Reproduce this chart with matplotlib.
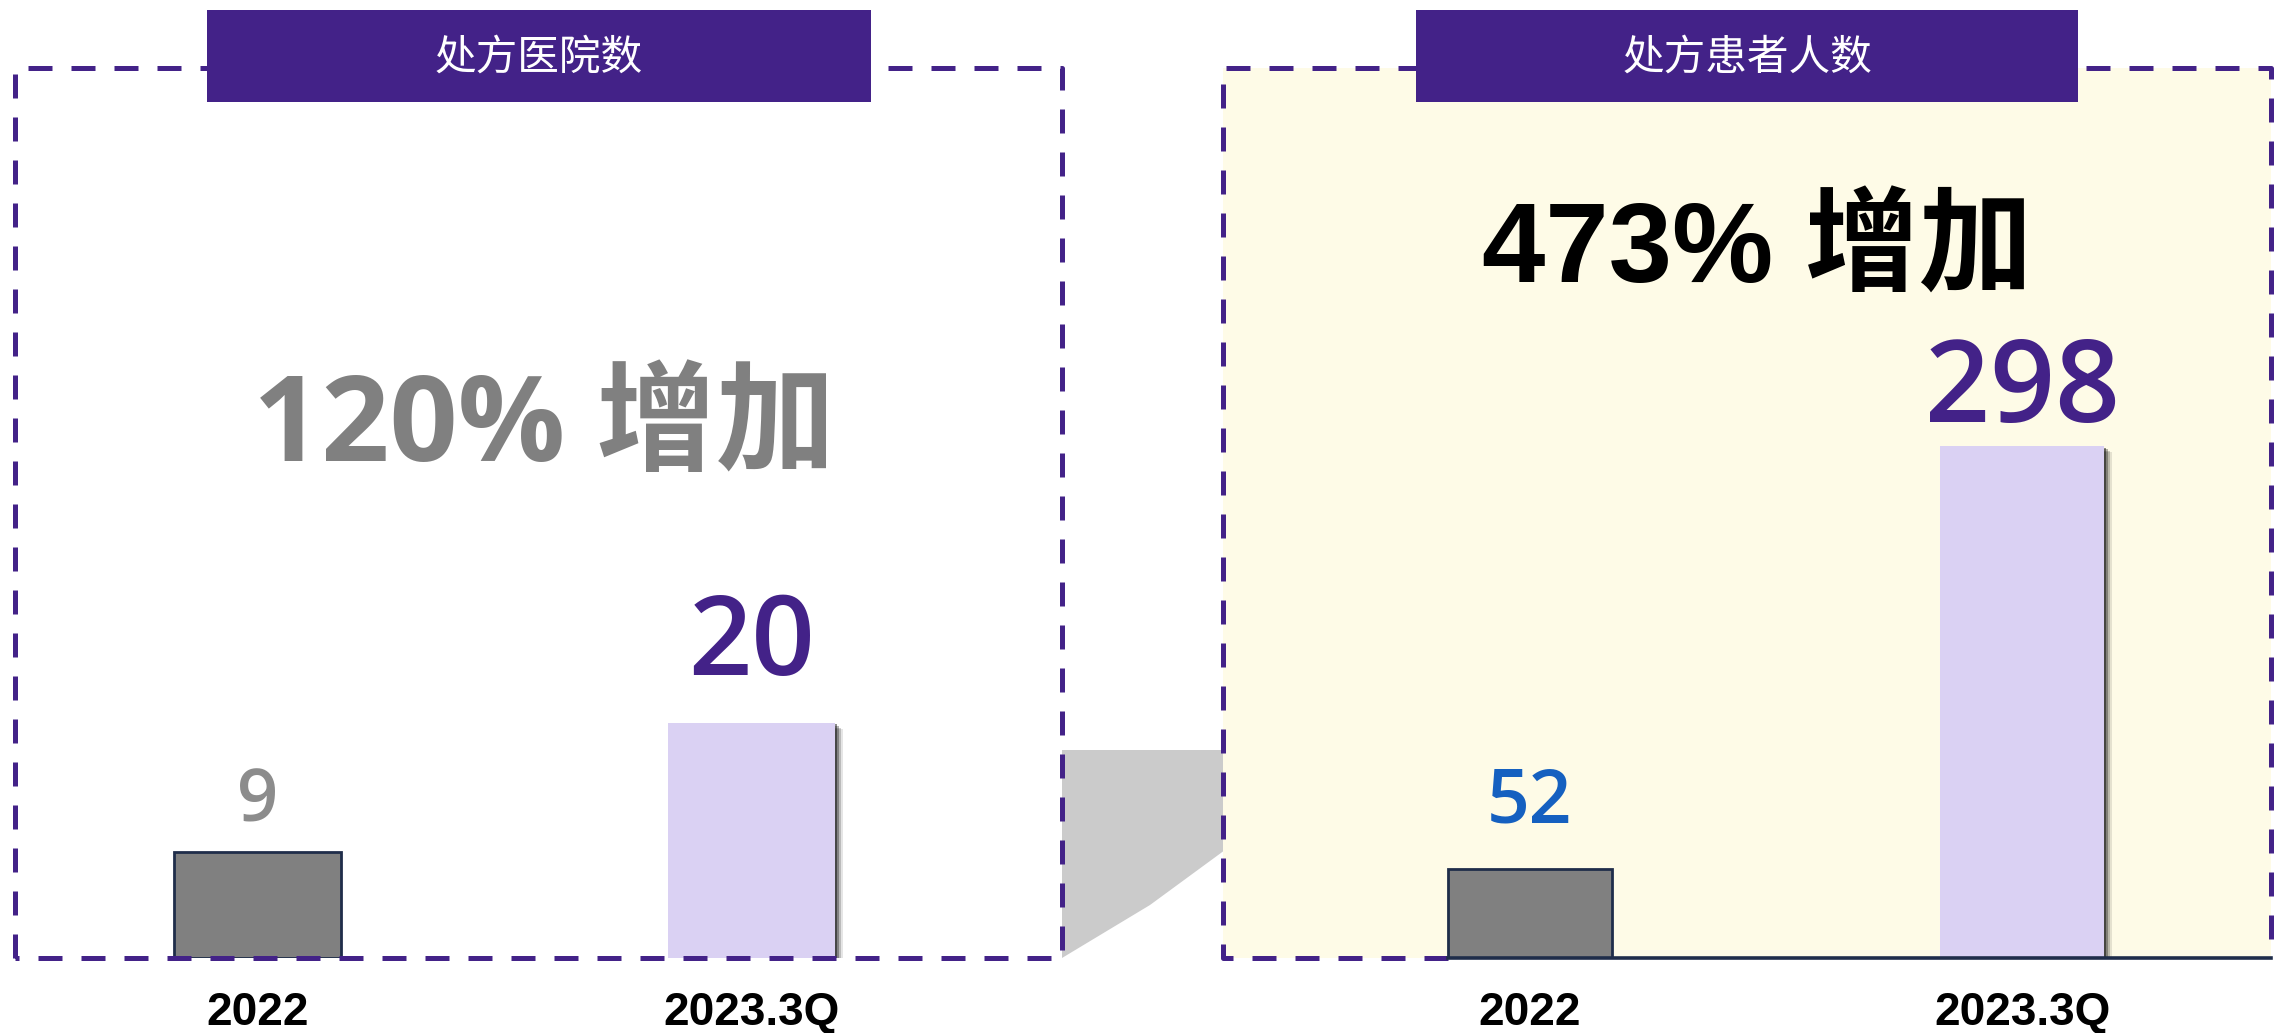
import matplotlib.pyplot as plt
from matplotlib.patches import Rectangle, Polygon
from matplotlib.transforms import offset_copy

plt.rcParams['font.family'] = ['Liberation Sans', 'Noto Sans CJK SC', 'DejaVu Sans']

# data
periods = ['2022', '2023.3Q']
hospitals = [9, 20]
patients = [52, 298]
panel_titles = ['处方医院数', '处方患者人数']
growth_labels = ['120% 增加', '473% 增加']

W, H = 2275, 1033
PURPLE = '#432288'
NAVY = '#1F2D4A'
GRAY_BAR = '#808080'
LAVENDER = '#DAD1F3'
CREAM = '#FEFBE7'
DASH = (0, (4.8, 3.8))


def fx(px):
    return px / W


def fy(py):
    return 1 - py / H


fig = plt.figure(figsize=(22.75, 10.33), dpi=100)

# panel axes (left: hospitals, right: patients)
ax1 = fig.add_axes([fx(14.5), fy(958), fx(1062 - 14.5), (958 - 68) / H])
ax2 = fig.add_axes([fx(1223), fy(958), fx(2271 - 1223), (958 - 68) / H])
ax1.set_facecolor('none')
ax2.set_facecolor(CREAM)

panels = [
    (ax1, hospitals, (-0.493, 1.63), 75.7, 0.338, ['#8C8C8C', PURPLE], [52, 80], [31, 48]),
    (ax2, patients, (-0.623, 1.505), 518, 0.333, ['#1560C0', PURPLE], [54, 82], [46, 24]),
]

for k, (ax, vals, xl, ymax, bw, lab_colors, lab_sizes, lab_off) in enumerate(panels):
    ax.set_xlim(*xl)
    ax.set_ylim(0, ymax)
    for s in ax.spines.values():
        s.set_visible(False)
    ax.set_yticks([])
    ax.set_xticks([0, 1])
    ax.set_xticklabels(periods, fontsize=33, fontweight='bold', color='black')
    ax.tick_params(axis='x', length=0, pad=24)

    x = [0, 1]
    # shadow of the second bar
    for d, a in [(8, 0.10), (6, 0.18), (4, 0.30), (2, 0.45)]:
        tr = offset_copy(ax.transData, fig=fig, x=d, y=-d * 0.8, units='dots')
        ax.bar(x[1], vals[1], width=bw, color='black', alpha=a, transform=tr,
               linewidth=0, zorder=2)
    ax.bar(x[0], vals[0], width=bw, color=GRAY_BAR, edgecolor=NAVY, linewidth=2, zorder=3)
    ax.bar(x[1], vals[1], width=bw, color=LAVENDER, linewidth=0, zorder=3)

    for i, v in enumerate(vals):
        ax.annotate(str(v), xy=(x[i], v), xytext=(0, lab_off[i]), textcoords='offset pixels',
                    ha='center', va='baseline', fontsize=lab_sizes[i],
                    color=lab_colors[i], family=['Open Sans', 'DejaVu Sans'],
                    fontweight='semibold', zorder=5)

    # dashed frame
    if k == 0:
        ax.plot([0, 0, 1, 1, 0], [0, 1, 1, 0, 0], transform=ax.transAxes, clip_on=False,
                color=PURPLE, lw=3.6, ls=DASH, zorder=4)
    else:
        left_edge = (x[0] - bw / 2 - xl[0]) / (xl[1] - xl[0])
        ax.plot([left_edge, 0, 0, 1, 1], [0, 0, 1, 1, 0], transform=ax.transAxes,
                clip_on=False, color=PURPLE, lw=3.6, ls=DASH, zorder=4)
        ax.plot([left_edge, 1], [0, 0], transform=ax.transAxes, clip_on=False,
                color=NAVY, lw=2.6, zorder=4)

# gray connector between the panels
conn = [(fx(1062), fy(750)), (fx(1225), fy(750)), (fx(1225), fy(850)),
        (fx(1150), fy(905)), (fx(1062), fy(958))]
fig.add_artist(Polygon(conn, closed=True, transform=fig.transFigure,
                       facecolor='#CBCBCB', edgecolor='none', zorder=-1))

# title boxes
for (x0, x1), title in zip([(207, 871), (1416, 2078)], panel_titles):
    fig.add_artist(Rectangle((fx(x0), fy(102)), fx(x1 - x0), 92 / H,
                             transform=fig.transFigure, facecolor=PURPLE,
                             edgecolor='none', zorder=5))
    fig.text(fx((x0 + x1) / 2), fy(58), title, ha='center', va='center', color='white',
             fontsize=30, family=['Noto Sans CJK SC'], fontweight='light', zorder=6)

# growth annotations
fig.text(fx(544), fy(461), growth_labels[0], ha='center', va='baseline', color='#808080',
         fontsize=86, fontweight='bold', family=['Open Sans', 'Noto Sans CJK SC'])
fig.text(fx(1757), fy(283), growth_labels[1], ha='center', va='baseline', color='black',
         fontsize=82, fontweight='bold', family=['Liberation Sans', 'Noto Sans CJK SC'])

plt.savefig('out.png', dpi=100)
